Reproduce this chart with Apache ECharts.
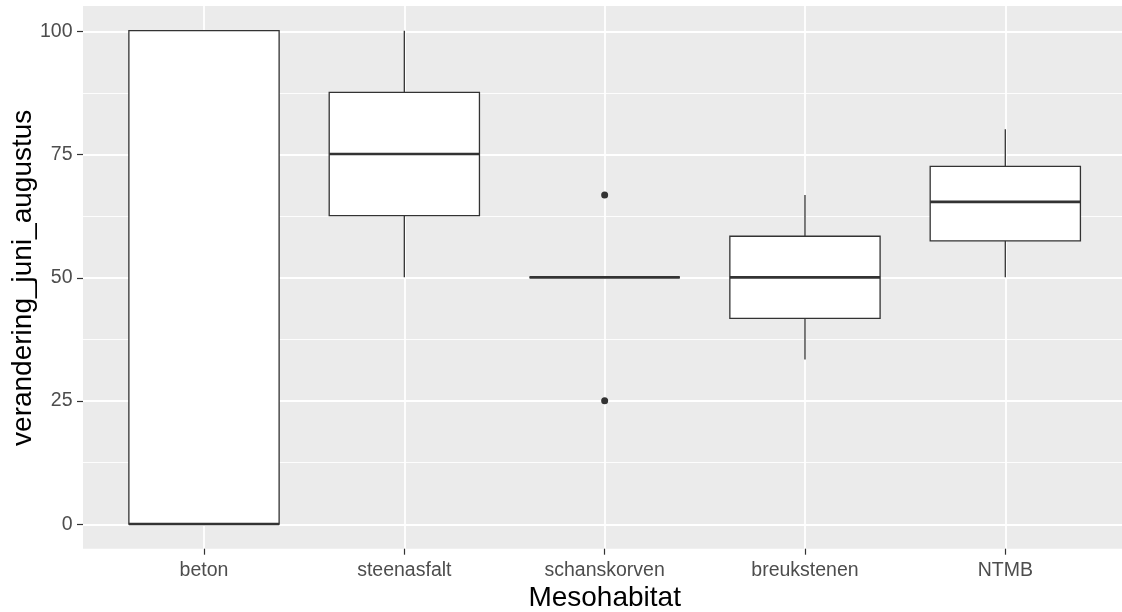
<!DOCTYPE html>
<html>
<head>
<meta charset="utf-8">
<script src="https://cdn.jsdelivr.net/npm/echarts@6/dist/echarts.min.js"></script>
<style>
html,body{margin:0;padding:0;background:#fff;}
#chart{width:1122px;height:612px;}
</style>
</head>
<body>
<div id="chart"></div>
<script>
// ---- data ----
const categories = ['beton', 'steenasfalt', 'schanskorven', 'breukstenen', 'NTMB'];
// [lower whisker, Q1, median, Q3, upper whisker]
const lowerWhisker = [0, 50, 50, 33.33, 50];
const q1Values     = [0, 62.5, 50, 41.67, 57.4];
const medianValues = [0, 75, 50, 50, 65.3];
const q3Values     = [100, 87.5, 50, 58.33, 72.5];
const upperWhisker = [100, 100, 50, 66.67, 80];
// outliers: [category index, value]
const outlierCats = [2, 2];
const outlierVals = [66.67, 25];
const yTicks = [0, 25, 50, 75, 100];

const boxData = categories.map((c, i) => [i, lowerWhisker[i], q1Values[i], medianValues[i], q3Values[i], upperWhisker[i]]);
const outlierData = outlierCats.map((c, i) => [c, outlierVals[i]]);

const FONT = '"Liberation Sans", Arial, sans-serif';
const INK = '#333333';

function renderBox(params, api) {
  const x = api.value(0);
  const lo = api.coord([x, api.value(1)]);
  const q1 = api.coord([x, api.value(2)]);
  const md = api.coord([x, api.value(3)]);
  const q3 = api.coord([x, api.value(4)]);
  const hi = api.coord([x, api.value(5)]);
  const bw = api.size([1, 0])[0] * 0.75;
  const cx = md[0];
  const lineStyle = { stroke: INK, lineWidth: 1.3 };
  return {
    type: 'group',
    children: [
      { type: 'line', shape: { x1: cx, y1: lo[1], x2: cx, y2: q1[1] }, style: lineStyle },
      { type: 'line', shape: { x1: cx, y1: q3[1], x2: cx, y2: hi[1] }, style: lineStyle },
      { type: 'rect', shape: { x: cx - bw / 2, y: q3[1], width: bw, height: q1[1] - q3[1] },
        style: { fill: '#ffffff', stroke: INK, lineWidth: 1.3 } },
      { type: 'line', shape: { x1: cx - bw / 2, y1: md[1], x2: cx + bw / 2, y2: md[1] },
        style: { stroke: INK, lineWidth: 2.6 } }
    ]
  };
}

const chart = echarts.init(document.getElementById('chart'));
const panelLeft = 83, panelTop = 6, panelW = 1041.6, panelH = 542.7;
chart.setOption({
  animation: false,
  grid: [
    { left: panelLeft, top: panelTop, width: panelW, height: panelH, show: true, backgroundColor: '#EBEBEB', borderWidth: 0, outerBoundsMode: 'none', containLabel: false },
    { left: panelLeft, top: 31.3, width: panelW, height: 493, outerBoundsMode: 'none', containLabel: false },
    { left: 204, top: panelTop, width: 801.3, height: panelH, outerBoundsMode: 'none', containLabel: false }
  ],
  xAxis: [
    { gridIndex: 0, type: 'value', show: false, min: 0, max: 1 },
    { gridIndex: 1, type: 'value', show: false, min: 0, max: 1 },
    { gridIndex: 2, type: 'category', data: categories, boundaryGap: false, position: 'bottom',
      name: 'Mesohabitat', nameLocation: 'middle', nameGap: 36, nameMoveOverlap: false,
      nameTextStyle: { fontFamily: FONT, fontSize: 28, color: '#000000' },
      axisLine: { show: false, onZero: false },
      axisTick: { show: true, length: 6, lineStyle: { color: INK, width: 1.2 } },
      axisLabel: { fontFamily: FONT, fontSize: 19.5, color: '#4D4D4D', margin: 12 },
      splitLine: { show: true, lineStyle: { color: '#ffffff', width: 1.8 } } }
  ],
  yAxis: [
    { gridIndex: 0, type: 'value', show: false, min: 0, max: 1 },
    { gridIndex: 1, type: 'value', min: yTicks[0], max: yTicks[yTicks.length - 1], interval: 25, position: 'left',
      name: 'verandering_juni_augustus', nameLocation: 'middle', nameGap: 46, nameRotate: 90, nameMoveOverlap: false,
      nameTextStyle: { fontFamily: FONT, fontSize: 28, color: '#000000' },
      axisLine: { show: false, onZero: false },
      axisTick: { show: true, length: 6, lineStyle: { color: INK, width: 1.2 } },
      axisLabel: { fontFamily: FONT, fontSize: 19.5, color: '#4D4D4D', margin: 10.5 },
      splitLine: { show: true, lineStyle: { color: '#ffffff', width: 1.8 } },
      minorTick: { show: false, splitNumber: 2 },
      minorSplitLine: { show: true, lineStyle: { color: '#ffffff', width: 0.9 } } },
    { gridIndex: 2, type: 'value', show: false, min: -5, max: 105, axisLine: { onZero: false } }
  ],
  series: [
    { type: 'custom', xAxisIndex: 2, yAxisIndex: 2, renderItem: renderBox, data: boxData, z: 5 },
    { type: 'scatter', xAxisIndex: 2, yAxisIndex: 2, data: outlierData, symbolSize: 7,
      itemStyle: { color: INK, opacity: 1 }, z: 6 }
  ]
});
</script>
</body>
</html>
